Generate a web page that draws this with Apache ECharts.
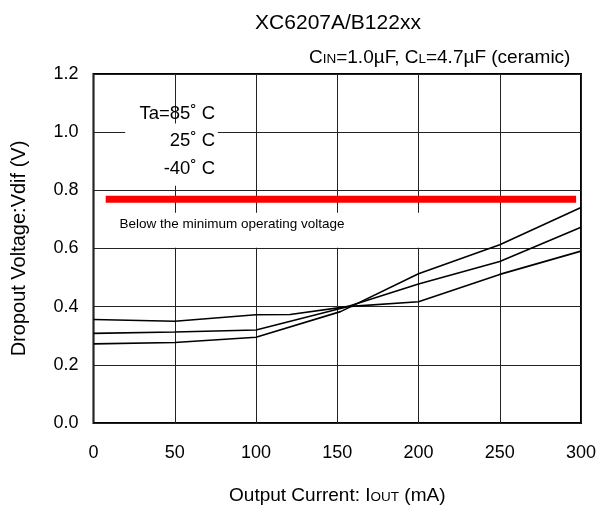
<!DOCTYPE html>
<html><head><meta charset="utf-8">
<script src="https://cdn.jsdelivr.net/npm/echarts@6/dist/echarts.min.js"></script>
<style>html,body{margin:0;padding:0;background:#fff}#c{width:601px;height:510px}</style>
</head><body><div id="c"></div>
<script>
const xTicks = [0, 50, 100, 150, 200, 250, 300];
const yTicks = [0.0, 0.2, 0.4, 0.6, 0.8, 1.0, 1.2];
// Series A (highest at low current)
const xA = [0, 50, 100, 121, 156, 200, 250, 300];
const yA = [0.356, 0.350, 0.372, 0.373, 0.400, 0.417, 0.511, 0.591];
// Series B (middle)
const xB = [0, 50, 100, 155, 200, 250, 300];
const yB = [0.308, 0.313, 0.320, 0.398, 0.478, 0.555, 0.673];
// Series C (lowest at low current)
const xC = [0, 50, 100, 152, 200, 250, 300];
const yC = [0.272, 0.277, 0.295, 0.383, 0.513, 0.613, 0.741];
// Minimum operating voltage limit line
const limitX = [7.5, 297];
const limitY = [0.769, 0.769];
const legendLabels = ['Ta=85˚ C', '25˚ C', '-40˚ C'];

const FONT = '"Liberation Sans", Arial, sans-serif';
const pairs = (xs, ys) => xs.map((x, i) => [x, ys[i]]);
const lineSeries = (xs, ys) => ({
  type: 'line', data: pairs(xs, ys), symbol: 'none',
  lineStyle: { color: '#000', width: 1.6 }, z: 5, silent: true
});

const chart = echarts.init(document.getElementById('c'));
chart.setOption({
  animation: false,
  backgroundColor: '#fff',
  grid: { left: 93.5, right: 20, top: 74, bottom: 76, show: true, borderColor: '#000', borderWidth: 2, backgroundColor: 'transparent' },
  title: {
    text: 'XC6207A/B122xx', left: 333, top: 8, textAlign: 'center',
    textStyle: { fontFamily: FONT, fontSize: 21, fontWeight: 'normal', color: '#000' }
  },
  xAxis: {
    type: 'value', min: 0, max: 300, interval: 50,
    name: '{n|Output Current: I}{s|OUT}{n| (mA)}', nameLocation: 'middle', nameGap: 63,
    nameTextStyle: { rich: { n: { fontFamily: FONT, fontSize: 19, color: '#000' }, s: { fontFamily: FONT, fontSize: 13.5, color: '#000', padding: [4, 0, 0, 0] } } },
    axisLine: { show: false }, axisTick: { show: false },
    axisLabel: { fontFamily: FONT, fontSize: 18, color: '#000', margin: 21, formatter: v => xTicks.includes(v) ? String(v) : '' },
    splitLine: { show: true, lineStyle: { color: '#222', width: 1 } }
  },
  yAxis: {
    type: 'value', min: 0, max: 1.2, interval: 0.2,
    name: 'Dropout Voltage:Vdif (V)', nameLocation: 'middle', nameGap: 64,
    nameTextStyle: { fontFamily: FONT, fontSize: 20, color: '#000' },
    axisLine: { show: false }, axisTick: { show: false },
    axisLabel: { fontFamily: FONT, fontSize: 18, color: '#000', margin: 15, formatter: v => yTicks.some(t => Math.abs(t - v) < 1e-6) ? v.toFixed(1) : '' },
    splitLine: { show: true, lineStyle: { color: '#222', width: 1 } }
  },
  series: [
    lineSeries(xA, yA), lineSeries(xB, yB), lineSeries(xC, yC),
    { type: 'line', data: pairs(limitX, limitY), symbol: 'none', lineStyle: { color: '#ff0000', width: 7, cap: 'butt' }, z: 4, silent: true }
  ]
});

const p = (x, y) => chart.convertToPixel({ gridIndex: 0 }, [x, y]);
const legTL = p(19.5, 1.03);
const legBR = p(76.5, 0.816);
const noteTL = p(0, 0.723);
const noteBR = p(237, 0.603);
const noteText = p(16, 0.683);
const legText = p(74.8, 0.969);
const sub = p(293.5, 1.2);
chart.setOption({
  graphic: [
    { type: 'rect', shape: { x: legTL[0], y: legTL[1], width: legBR[0] - legTL[0], height: legBR[1] - legTL[1] }, style: { fill: '#fff' }, z: 3 },
    { type: 'rect', shape: { x: noteTL[0] + 2, y: noteTL[1], width: noteBR[0] - noteTL[0] - 2, height: noteBR[1] - noteTL[1] }, style: { fill: '#fff' }, z: 3 },
    { type: 'text', x: noteText[0], y: noteText[1], z: 6,
      style: { text: 'Below the minimum operating voltage', fontFamily: FONT, fontSize: 13.5, fill: '#000', verticalAlign: 'middle', letterSpacing: -0.85 } },
    { type: 'text', x: legText[0], y: legText[1], z: 6,
      style: { text: legendLabels.join('\n'), fontFamily: FONT, fontSize: 18.5, lineHeight: 27.3, fill: '#000', align: 'right', verticalAlign: 'middle' } },
    { type: 'text', x: sub[0], y: sub[1] - 7, z: 6,
      style: { text: '{n|C}{s|IN}{n|=1.0µF, C}{s|L}{n|=4.7µF (ceramic)}', align: 'right', verticalAlign: 'bottom',
        rich: { n: { fontFamily: FONT, fontSize: 19, color: '#000' }, s: { fontFamily: FONT, fontSize: 13.5, color: '#000', padding: [4, 0, 0, 0] } } } }
  ]
});
</script></body></html>
